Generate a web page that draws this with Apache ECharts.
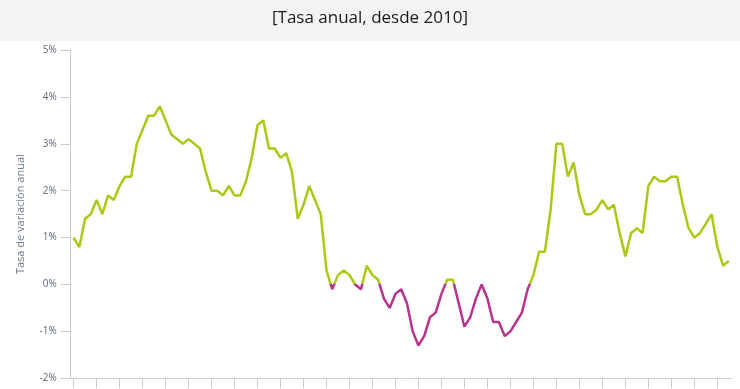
<!DOCTYPE html>
<html>
<head>
<meta charset="utf-8">
<script src="https://cdn.jsdelivr.net/npm/echarts@6/dist/echarts.min.js"></script>
<style>
html,body{margin:0;padding:0;background:#fff;}
#chart{width:740px;height:389px;}
</style>
</head>
<body>
<div id="chart"></div>
<script>
// Data: monthly annual rate (%), from January 2010
var years = [2010, 2011, 2012, 2013, 2014, 2015, 2016, 2017, 2018, 2019];
var months = ['01','02','03','04','05','06','07','08','09','10','11','12'];
var values2010 = [1.0, 0.8, 1.4, 1.5, 1.8, 1.5, 1.9, 1.8, 2.1, 2.3, 2.3, 3.0];
var values2011 = [3.3, 3.6, 3.6, 3.8, 3.5, 3.2, 3.1, 3.0, 3.1, 3.0, 2.9, 2.4];
var values2012 = [2.0, 2.0, 1.9, 2.1, 1.9, 1.9, 2.2, 2.7, 3.4, 3.5, 2.9, 2.9];
var values2013 = [2.7, 2.8, 2.4, 1.4, 1.7, 2.1, 1.8, 1.5, 0.3, -0.1, 0.2, 0.3];
var values2014 = [0.2, 0.0, -0.1, 0.4, 0.2, 0.1, -0.3, -0.5, -0.2, -0.1, -0.4, -1.0];
var values2015 = [-1.3, -1.1, -0.7, -0.6, -0.2, 0.1, 0.1, -0.4, -0.9, -0.7, -0.3, 0.0];
var values2016 = [-0.3, -0.8, -0.8, -1.1, -1.0, -0.8, -0.6, -0.1, 0.2, 0.7, 0.7, 1.6];
var values2017 = [3.0, 3.0, 2.3, 2.6, 1.9, 1.5, 1.5, 1.6, 1.8, 1.6, 1.7, 1.1];
var values2018 = [0.6, 1.1, 1.2, 1.1, 2.1, 2.3, 2.2, 2.2, 2.3, 2.3, 1.7, 1.2];
var values2019 = [1.0, 1.1, 1.3, 1.5, 0.8, 0.4, 0.5];
var yTicks = ['-2%', '-1%', '0%', '1%', '2%', '3%', '4%', '5%'];

var titleText = '[Tasa anual, desde 2010]';
var yName = 'Tasa de variación anual';

var allValues = [].concat(values2010, values2011, values2012, values2013, values2014,
  values2015, values2016, values2017, values2018, values2019);
var categories = [];
years.forEach(function (y) {
  months.forEach(function (m) {
    if (categories.length < allValues.length) categories.push(y + '-' + m);
  });
});

var chart = echarts.init(document.getElementById('chart'));
chart.setOption({
  animation: false,
  backgroundColor: '#ffffff',
  graphic: [{
    type: 'rect', left: 0, top: 0, z: -10,
    shape: { width: 740, height: 41 },
    style: { fill: '#f3f3f2' }
  }],
  title: {
    text: titleText,
    left: 'center', top: 5,
    textStyle: { fontFamily: 'Open Sans, sans-serif', fontSize: 17, fontWeight: 'normal', color: '#1a1a1a' }
  },
  grid: { left: 70.7, right: 8.3, top: 50, bottom: 10.7, containLabel: false },
  xAxis: {
    type: 'category',
    data: categories,
    boundaryGap: true,
    axisLine: { show: true, onZero: false, lineStyle: { color: '#cccccc', width: 1 } },
    axisTick: { show: true, interval: 3, alignWithLabel: true, length: 10, lineStyle: { color: '#cccccc' } },
    axisLabel: { show: false, interval: 3 },
    splitLine: { show: false }
  },
  yAxis: {
    type: 'value',
    min: -2, max: 5, interval: 1,
    name: yName,
    nameLocation: 'middle',
    nameGap: 44,
    nameTextStyle: { fontFamily: 'Open Sans, sans-serif', fontSize: 11, color: '#6b7b90' },
    axisLine: { show: true, lineStyle: { color: '#cccccc', width: 1 } },
    axisTick: { show: true, length: 10, lineStyle: { color: '#cccccc' } },
    axisLabel: {
      margin: 14,
      fontFamily: 'Open Sans, sans-serif', fontSize: 10, color: '#5e6675',
      formatter: function (v) { return yTicks[Math.round(v) + 2]; }
    },
    splitLine: { show: false }
  },
  visualMap: {
    show: false,
    type: 'piecewise',
    dimension: 1,
    seriesIndex: 0,
    pieces: [
      { min: -10, max: 0, color: '#b8338c' },
      { gt: 0, lte: 10, color: '#a9c915' }
    ]
  },
  series: [{
    type: 'line',
    data: allValues,
    showSymbol: false,
    symbol: 'none',
    lineStyle: { width: 2.5 },
    smooth: false
  }]
});
</script>
</body>
</html>
